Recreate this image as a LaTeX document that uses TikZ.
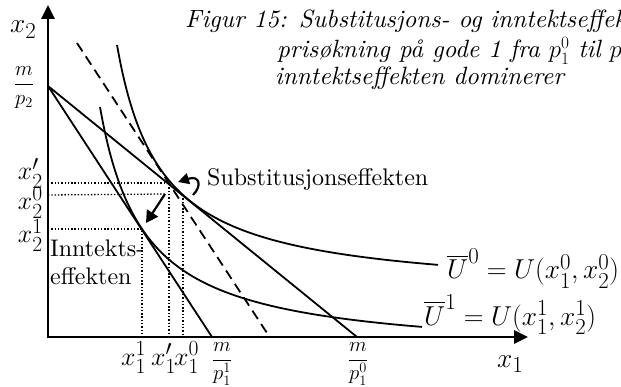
\documentclass[tikz,border=0pt]{standalone}
\usepackage{amsmath}
\usepackage{fontspec}
\setmainfont{lmroman10}[Extension=.otf, UprightFont=*-regular, ItalicFont=*-italic, BoldFont=*-bold, BoldItalicFont=*-bolditalic]
\usetikzlibrary{arrows.meta}
\newcommand{\biglab}[1]{\scalebox{1.1}{$#1$}}
\newcommand{\midlab}[1]{\scalebox{1.04}{$#1$}}
\begin{document}
\begin{tikzpicture}[x=1pt,y=-1pt,
  axisline/.style={line width=2.6pt, line join=miter,
    {Triangle[length=14pt,width=13pt]}-{Triangle[length=14pt,width=13pt]}},
  curveline/.style={line width=1.8pt},
  budgetline/.style={line width=1.8pt},
  dashline/.style={line width=1.8pt, dash pattern=on 10pt off 6pt},
  dotline/.style={line width=1.3pt, dash pattern=on 1.4pt off 1.9pt},
  effarrow/.style={line width=2.2pt, -{Triangle[length=12pt,width=13pt]}},
  subarrow/.style={line width=2.2pt, -{Triangle[length=11pt,width=11pt]}},
  lab/.style={inner sep=0pt, font=\fontsize{24.88}{28}\selectfont},
  fraclab/.style={inner sep=0pt, font=\fontsize{20}{24}\selectfont},
  txt/.style={inner sep=0pt, font=\fontsize{24}{28}\selectfont},
  captxt/.style={inner sep=0pt, font=\fontsize{25}{28}\selectfont\itshape}
]
\useasboundingbox (0,0) rectangle (621,387);
\clip (0,0) rectangle (621,387);

% key points
\coordinate (O) at (48,337);
\coordinate (Ytip) at (48,5);
\coordinate (Xtip) at (528,337);
\coordinate (A) at (48,86);
\coordinate (B0) at (357,337);
\coordinate (B1) at (212,337);
\coordinate (D1) at (77,43);
\coordinate (D2) at (267,333);
\coordinate (E0) at (183,195);
\coordinate (Ep) at (169,183);
\coordinate (E1) at (142,229);
\coordinate (E0a) at (183,337);
\coordinate (Epa) at (169,337);
\coordinate (E1a) at (142,337);
\coordinate (E0y) at (48,195);
\coordinate (Epy) at (48,183);
\coordinate (E1y) at (48,229);
\coordinate (Itail) at (165,194);
\coordinate (Itip) at (146,223);
\coordinate (Stail) at (193,195);
\coordinate (Stip) at (178,182);

% dotted guide lines
\draw[dotline] (Epy) -- (Ep) -- (Epa);
\draw[dotline] (E0y) -- (Itail);
\draw[dotline] (E0) -- (E0a);
\draw[dotline] (E1y) -- (E1) -- (E1a);

% budget lines
\draw[budgetline] (A) -- (B0);
\draw[budgetline] (A) -- (B1);
\draw[dashline] (D1) -- (D2);

% indifference curves
\draw[curveline] plot[domain=69:390, samples=120, smooth] ({48+\x},{295-11000/(\x-25)});
\draw[curveline] plot[domain=52:374, samples=120, smooth] ({48+\x},{357-11017/(\x-7.93)});

% axes
\draw[axisline] (Ytip) -- (O) -- (Xtip);

% effect arrows
\draw[effarrow] (Itail) -- (Itip);
\draw[subarrow] (Stail) .. controls (202,186) and (200,175) .. (Stip);

% axis labels
\node[lab, anchor=base west] (lx2) at (10,33) {\biglab{x_2}};
\node[fraclab, anchor=base] (lmp2) at (24,90) {$\dfrac{m}{p_2}$};
\node[lab, anchor=base east] (lx2p) at (43,180) {\midlab{x_2'}};
\node[lab, anchor=base east] (lx20) at (43,210) {\midlab{x_2^0}};
\node[lab, anchor=base east] (lx21) at (43,243) {\midlab{x_2^1}};
\node[lab, anchor=base west] (lx11) at (121,365) {\midlab{x_1^1}};
\node[lab, anchor=base west] (lx1p) at (151,365) {\midlab{x_1'}};
\node[lab, anchor=base west] (lx10) at (174,365) {\midlab{x_1^0}};
\node[fraclab, anchor=base] (lmp11) at (222,365.5) {$\dfrac{m}{p_1^1}$};
\node[fraclab, anchor=base] (lmp10) at (358,365.5) {$\dfrac{m}{p_1^0}$};
\node[lab, anchor=base west] (lx1) at (497,367) {\biglab{x_1}};

% curve labels
\node[lab, anchor=base west] (lU0) at (447,279) {\biglab{\overline{U}^0=U(x_1^0,x_2^0)}};
\node[lab, anchor=base west] (lU1) at (424,325) {\biglab{\overline{U}^1=U(x_1^1,x_2^1)}};

% effect labels
\node[txt, anchor=base west] (lsub) at (207,186) {Substitusjonseffekten};
\node[txt, anchor=base west] (linc1) at (50,257) {Inntekts-};
\node[txt, anchor=base west] (linc2) at (50,285) {effekten};

% caption
\node[captxt, anchor=base west] (cap1) at (185,28) {Figur 15: Substitusjons- og inntektseffekten};
\node[captxt, anchor=base west] (cap2) at (277,58) {prisøkning på gode 1 fra $p_1^0$ til $p_1^1$};
\node[captxt, anchor=base west] (cap3) at (275,85) {inntektseffekten dominerer};
\end{tikzpicture}
\end{document}
